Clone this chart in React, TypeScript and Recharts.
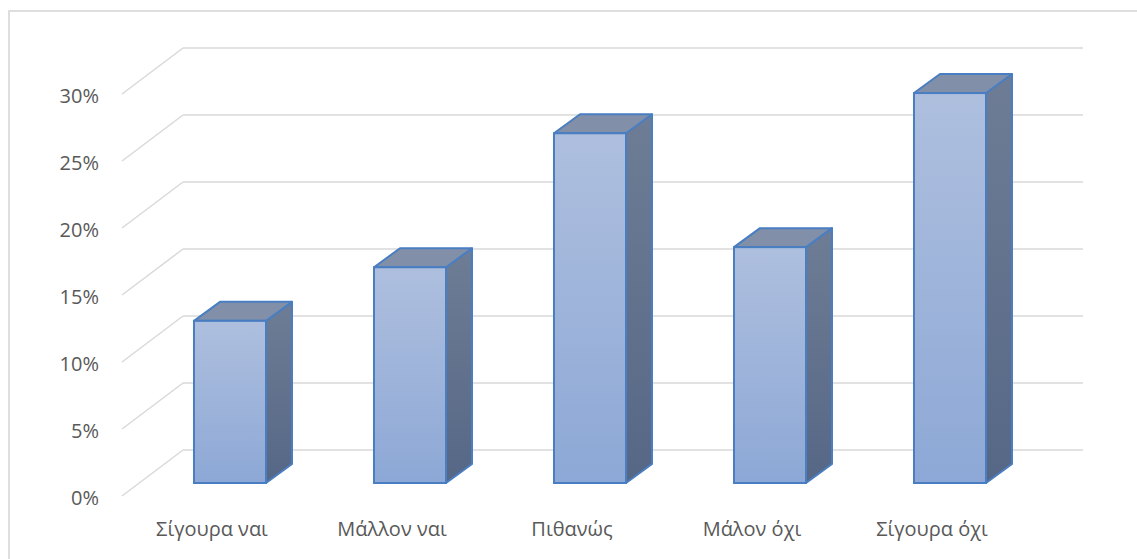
import { BarChart, Bar, XAxis, YAxis, CartesianGrid } from 'recharts';

const categories = ['Σίγουρα ναι', 'Μάλλον ναι', 'Πιθανώς', 'Μάλον όχι', 'Σίγουρα όχι'];
const shares = [12.1, 16.1, 26.1, 17.6, 29.1];
const yTicks = [0, 5, 10, 15, 20, 25, 30];

const data = categories.map((name, i) => ({ name, value: shares[i] }));

// oblique depth of the floor / walls, relative to the plane of the bar fronts
const FRONT_DX = -18;
const FRONT_DY = 13;
const BACK_DX = 43;
const BACK_DY = -33;
// depth of one bar
const BAR_DX = 26;
const BAR_DY = -19;

const GRID = '#d9d9d9';
const TEXT = '#595959';
const EDGE = '#4a7ec2';
const FONT = '"Open Sans", sans-serif';

function GridLine(props: any) {
  const { x1, x2, y1 } = props;
  return (
    <g key={`g-${y1}`}>
      <line x1={x1 + FRONT_DX} y1={y1 + FRONT_DY} x2={x1 + BACK_DX} y2={y1 + BACK_DY} stroke={GRID} strokeWidth={1.5} />
      <line x1={x1 + BACK_DX} y1={y1 + BACK_DY} x2={x2 + BACK_DX} y2={y1 + BACK_DY} stroke={GRID} strokeWidth={1.5} />
    </g>
  );
}

function YTick(props: any) {
  const { y, payload } = props;
  return (
    <text x={99} y={y + 22} textAnchor="end" fill={TEXT} fontSize={20} fontFamily={FONT}>
      {`${payload.value}%`}
    </text>
  );
}

function XTick(props: any) {
  const { x, y, payload } = props;
  return (
    <text x={x + FRONT_DX} y={y + 45} textAnchor="middle" fill={TEXT} fontSize={20} fontFamily={FONT}>
      {payload.value}
    </text>
  );
}

function Bar3D(props: any) {
  const { x, y, width, height, index } = props;
  const r = x + width;
  const b = y + height;
  const fid = `front-${index}`;
  const sid = `side-${index}`;
  return (
    <g>
      <defs>
        <linearGradient id={fid} x1="0" y1="0" x2="0" y2="1">
          <stop offset="0%" stopColor="#aebfde" />
          <stop offset="100%" stopColor="#8da8d6" />
        </linearGradient>
        <linearGradient id={sid} x1="0" y1="0" x2="0" y2="1">
          <stop offset="0%" stopColor="#6e7d95" />
          <stop offset="100%" stopColor="#566786" />
        </linearGradient>
      </defs>
      {/* right side */}
      <path
        d={`M${r},${y} L${r + BAR_DX},${y + BAR_DY} L${r + BAR_DX},${b + BAR_DY} L${r},${b} Z`}
        fill={`url(#${sid})`}
        stroke={EDGE}
        strokeWidth={2}
        strokeLinejoin="round"
      />
      {/* top */}
      <path
        d={`M${x},${y} L${x + BAR_DX},${y + BAR_DY} L${r + BAR_DX},${y + BAR_DY} L${r},${y} Z`}
        fill="#8190a8"
        stroke={EDGE}
        strokeWidth={2}
        strokeLinejoin="round"
      />
      {/* front */}
      <rect x={x} y={y} width={width} height={height} fill={`url(#${fid})`} stroke={EDGE} strokeWidth={2} />
    </g>
  );
}

export default function App() {
  return (
    <div style={{ position: 'absolute', left: 0, top: 0, width: 1137, height: 559, overflow: 'hidden', background: '#fff' }}>
      <div
        style={{
          position: 'absolute',
          left: 8,
          top: 10,
          width: 1140,
          height: 560,
          borderTop: '2px solid #dedede',
          borderLeft: '2px solid #dedede',
        }}
      />
      <div style={{ position: 'absolute', left: 0, top: 0 }}>
        <BarChart width={1137} height={559} data={data} margin={{ top: 81, right: 97, left: 80, bottom: 36 }} barSize={72}>
          <CartesianGrid vertical={false} horizontal={(p: any) => <GridLine {...p} />} />
          <XAxis dataKey="name" axisLine={false} tickLine={false} height={40} interval={0} tick={<XTick />} />
          <YAxis
            width={60}
            domain={[0, 30]}
            ticks={yTicks}
            axisLine={false}
            tickLine={false}
            tick={<YTick />}
          />
          <Bar dataKey="value" shape={<Bar3D />} isAnimationActive={false} />
        </BarChart>
      </div>
    </div>
  );
}
